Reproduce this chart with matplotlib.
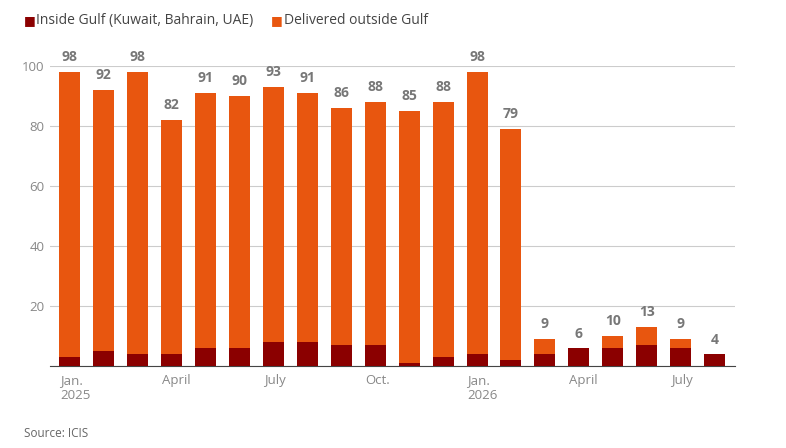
import matplotlib.pyplot as plt
import numpy as np

months = ["Jan.\n2025","Feb","Mar","April","May","Jun","July","Aug","Sep","Oct.","Nov","Dec",
          "Jan.\n2026","Feb","Mar","April","May","Jun","July","Aug"]
totals = [98,92,98,82,91,90,93,91,86,88,85,88,98,79,9,6,10,13,9,4]
inside = [3,5,4,4,6,6,8,8,7,7,1,3,4,2,4,6,6,7,6,4]
outside = [t-i for t,i in zip(totals,inside)]
tick_idx = [0,3,6,9,12,15,18]

plt.rcParams['font.family'] = ['Open Sans','DejaVu Sans']
fig = plt.figure(figsize=(7.86,4.48), dpi=100)
ax = fig.add_axes([0.063,0.183,0.872,0.67])
x = np.arange(len(months))
dark = '#8b0000'; orange = '#e8560f'
ax.bar(x, inside, 0.62, color=dark, zorder=3)
ax.bar(x, outside, 0.62, bottom=inside, color=orange, zorder=3)
for xi,t in zip(x,totals):
    ax.text(xi, t+2.5, str(t), ha='center', va='bottom', color='#777777', fontsize=10, fontweight='bold')
ax.set_ylim(0,100)
ax.set_xlim(-0.6, 19.6)
ax.set_yticks([0,20,40,60,80,100])
ax.set_yticklabels(['','20','40','60','80','100'])
ax.yaxis.grid(True, color='#cccccc', lw=0.8, zorder=0)
ax.tick_params(axis='y', length=0, colors='#888888', labelsize=9.5)
ax.set_xticks(tick_idx)
ax.set_xticklabels([months[i] for i in tick_idx], ha='left', color='#888888', fontsize=9.5)
ax.tick_params(axis='x', length=0, pad=6)
for lab in ax.get_xticklabels():
    lab.set_x(-0.3)
import matplotlib.transforms as mt
off = mt.ScaledTranslation(-7/72, 0, fig.dpi_scale_trans)
for lab in ax.get_xticklabels():
    lab.set_transform(lab.get_transform()+off)
for s in ['top','right','left']:
    ax.spines[s].set_visible(False)
ax.spines['bottom'].set_color('#444444')
fig.text(0.03,0.955,'■', color=dark, fontsize=9, va='center')
fig.text(0.046,0.955,'Inside Gulf (Kuwait, Bahrain, UAE)', color='#444444', fontsize=10, va='center')
fig.text(0.345,0.955,'■', color=orange, fontsize=9, va='center')
fig.text(0.361,0.955,'Delivered outside Gulf', color='#444444', fontsize=10, va='center')
fig.text(0.03,0.025,'Source: ICIS', color='#666666', fontsize=8.5)
fig.savefig('out.png', dpi=100)
